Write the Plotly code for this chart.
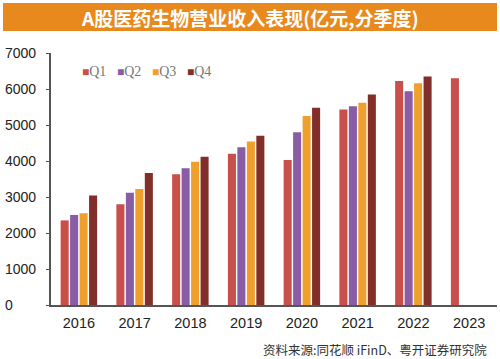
import plotly.graph_objects as go

years = ["2016", "2017", "2018", "2019", "2020", "2021", "2022", "2023"]
q1 = [2350, 2800, 3630, 4200, 4030, 5430, 6220, 6300]
q2 = [2500, 3120, 3800, 4380, 4800, 5520, 5940, None]
q3 = [2550, 3220, 3980, 4540, 5250, 5620, 6160, None]
q4 = [3040, 3670, 4120, 4700, 5480, 5850, 6350, None]
series_names = ["Q1", "Q2", "Q3", "Q4"]
colors = ["#C9504A", "#8A5CA6", "#EE9F2C", "#822F2A"]
y_ticks = [0, 1000, 2000, 3000, 4000, 5000, 6000, 7000]
title_text = "A股医药生物营业收入表现(亿元,分季度)"
source_text = "资料来源:同花顺 iFinD、粤开证券研究院"

W, H = 500, 359
L, R, T, B = 51, 3, 53, 54
pw = W - L - R
ph = H - T - B

def px_x(x):
    return (x - L) / pw

def px_y(y):
    return (H - B - y) / ph

fig = go.Figure()
for name, vals, c in zip(series_names, [q1, q2, q3, q4], colors):
    fig.add_trace(go.Bar(x=years, y=vals, name=name, marker=dict(color=c, line=dict(width=0)),
                         showlegend=False))

annotations = []
for v in y_ticks:
    annotations.append(dict(x=px_x(3), xref="paper", y=v, yref="y", text=str(v),
                            xanchor="left", yanchor="middle", showarrow=False,
                            font=dict(family="Liberation Sans, Arial", size=14, color="#222")))

# legend (manual)
leg_x = [80, 115, 150, 185]
for name, c, lx in zip(series_names, colors, leg_x):
    annotations.append(dict(x=px_x(lx), xref="paper", y=px_y(72), yref="paper",
                            text=f"<span style='color:{c};font-size:12px'>■</span>{name}",
                            xanchor="left", yanchor="middle", showarrow=False,
                            font=dict(family="Liberation Serif, Times New Roman", size=14, color="#777")))

annotations.append(dict(x=px_x(250), xref="paper", y=px_y(17), yref="paper",
                        text="<b>" + title_text + "</b>",
                        xanchor="center", yanchor="middle", showarrow=False,
                        font=dict(family="Noto Sans CJK SC", size=19, color="white")))
annotations.append(dict(x=px_x(489), xref="paper", y=px_y(349), yref="paper", text=source_text,
                        xanchor="right", yanchor="middle", showarrow=False,
                        font=dict(family="Noto Sans CJK SC", size=12.5, color="#333")))

fig.update_layout(
    width=W, height=H,
    margin=dict(l=L, r=R, t=T, b=B, pad=0),
    paper_bgcolor="white", plot_bgcolor="white",
    barmode="group", bargap=0.32, bargroupgap=0.15,
    showlegend=False,
    annotations=annotations,
    shapes=[dict(type="rect", xref="paper", yref="paper",
                 x0=px_x(3), x1=px_x(497), y0=px_y(31), y1=px_y(3),
                 fillcolor="#E8891E", line=dict(width=0), layer="below")],
    xaxis=dict(type="category", showline=True, linecolor="#555", linewidth=2,
               ticks="", showgrid=False, ticklabelstandoff=4,
               tickfont=dict(family="Liberation Sans, Arial", size=14.5, color="#222")),
    yaxis=dict(range=[0, 7000], showline=True, linecolor="#555", linewidth=1.5,
               ticks="outside", ticklen=3, tickcolor="#555", tickvals=y_ticks,
               showticklabels=False, showgrid=False, zeroline=False),
)
fig.write_html("out.html", config={"displayModeBar": False},
               post_script="document.body.style.margin='0';document.body.style.overflow='hidden';")
